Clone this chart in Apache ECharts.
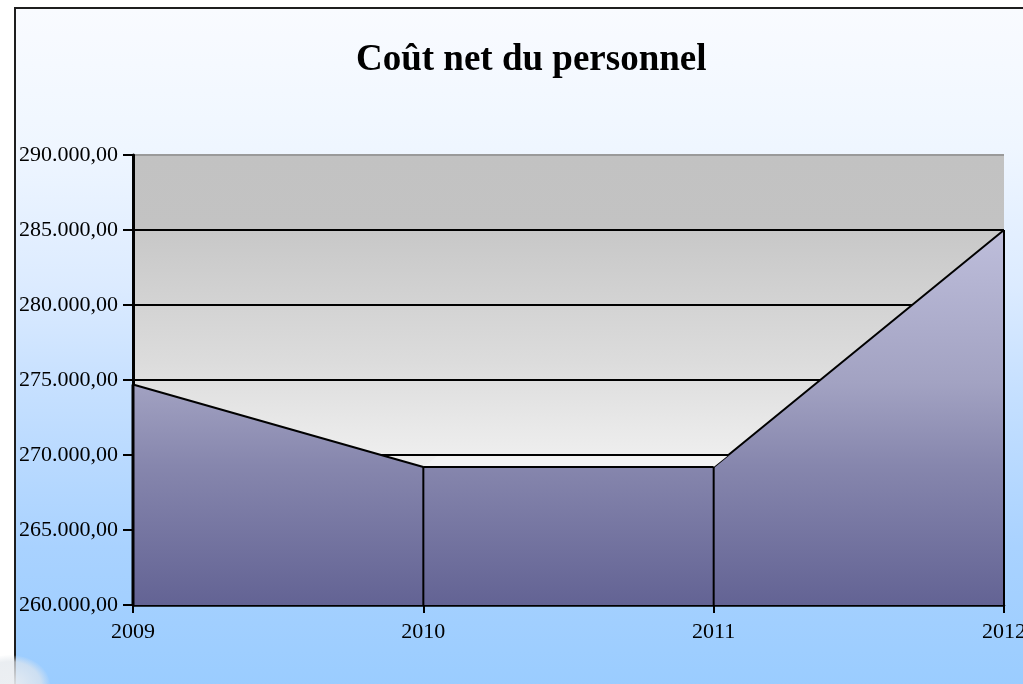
<!DOCTYPE html>
<html>
<head>
<meta charset="utf-8">
<script src="https://cdn.jsdelivr.net/npm/echarts@6/dist/echarts.min.js"></script>
<style>
  html, body { margin: 0; padding: 0; background: #ffffff; overflow: hidden; }
  #bg {
    position: absolute; left: 14px; top: 7px; width: 1100px; height: 690px;
    border-left: 2px solid #1e1e1e; border-top: 2px solid #1e1e1e;
    background: linear-gradient(to bottom, #f9fbff 0%, #eff6ff 20%, #dcebff 40%, #c6e0ff 55%, #a9d2ff 78%, #99ccff 100%);
  }
  #swoosh {
    position: absolute; left: -30px; top: 655px; width: 80px; height: 60px; border-radius: 50%;
    background: radial-gradient(ellipse at center, rgba(235,238,242,0.95) 0%, rgba(225,230,236,0.7) 55%, rgba(225,230,236,0) 72%);
  }
  #chart { position: absolute; left: 0; top: 0; width: 1023px; height: 684px; }
</style>
</head>
<body>
<div id="bg"></div>
<div id="swoosh"></div>
<div id="chart"></div>
<script>
// ---- data ----
const titleText = 'Coût net du personnel';
const categories = ['2009', '2010', '2011', '2012'];
const values = [274700, 269200, 269200, 285000];
const yMin = 260000;
const yMax = 290000;
const yStep = 5000;

function fmt(v) {
  const s = String(Math.round(v));
  return s.replace(/\B(?=(\d{3})+(?!\d))/g, '.') + ',00';
}

const serif = '"Liberation Serif", "DejaVu Serif", serif';
const chart = echarts.init(document.getElementById('chart'), null, { renderer: 'canvas' });

const depthX = 15, depthY = -12;

const option = {
  backgroundColor: 'transparent',
  animation: false,
  title: {
    text: titleText,
    left: 356,
    top: 42,
    padding: 0,
    textStyle: { fontFamily: serif, fontSize: 37, fontWeight: 'bold', color: '#000' }
  },
  grid: {
    left: 133, right: 19, top: 155, bottom: 79,
    containLabel: false,
    outerBoundsMode: 'none',
    show: true,
    borderWidth: 0,
    backgroundColor: {
      type: 'linear', x: 0, y: 0, x2: 0, y2: 1,
      colorStops: [
        { offset: 0, color: '#c2c2c2' },
        { offset: 0.166, color: '#c3c3c3' },
        { offset: 0.168, color: '#c8c8c8' },
        { offset: 0.46, color: '#dcdcdc' },
        { offset: 0.667, color: '#eeeeee' },
        { offset: 1, color: '#fdfdfd' }
      ]
    }
  },
  xAxis: {
    type: 'category',
    data: categories,
    boundaryGap: false,
    axisLine: { lineStyle: { color: '#000', width: 2.5 } },
    axisTick: { show: true, length: 8, lineStyle: { color: '#000', width: 2 } },
    axisLabel: { fontFamily: serif, fontSize: 22, color: '#000', margin: 16, showMaxLabel: true },
    splitLine: { show: false }
  },
  yAxis: {
    type: 'value',
    min: yMin, max: yMax, interval: yStep,
    axisLine: { show: true, lineStyle: { color: '#000', width: 3 } },
    axisTick: { show: true, length: 10, lineStyle: { color: '#000', width: 2 } },
    axisLabel: { fontFamily: serif, fontSize: 22, color: '#000', margin: 15, formatter: fmt },
    splitLine: {
      show: true,
      lineStyle: { color: ['#000', '#000', '#000', '#000', '#000', '#000', '#9a9a9a'], width: 2 }
    }
  },
  series: [
    {
      type: 'line',
      data: values,
      symbol: 'none',
      lineStyle: { color: '#000', width: 2 },
      areaStyle: {
        opacity: 1,
        origin: 'start',
        color: {
          type: 'linear', x: 0, y: 0, x2: 0, y2: 1,
          colorStops: [
            { offset: 0, color: '#bebedb' },
            { offset: 0.41, color: '#a2a2c2' },
            { offset: 0.63, color: '#8686ad' },
            { offset: 1, color: '#636394' }
          ]
        }
      },
      z: 2
    },
    {
      // top face of the flat 2010-2011 segment (3D depth)
      type: 'custom',
      z: 3,
      silent: true,
      data: [[1, values[1], 2, values[2]]],
      renderItem: function (params, api) {
        const a = api.coord([api.value(0), api.value(1)]);
        const b = api.coord([api.value(2), api.value(3)]);
        return {
          type: 'group',
          children: [
            {
              type: 'polygon',
              shape: { points: [a, b, [b[0] + depthX, b[1] + depthY], [a[0] + depthX, a[1] + depthY]] },
              style: { fill: '#f3f3f3', stroke: null }
            },
            {
              type: 'line',
              shape: { x1: a[0] - 40, y1: a[1] + depthY, x2: b[0] + depthX, y2: b[1] + depthY },
              style: { stroke: '#000', lineWidth: 2 }
            },
            {
              type: 'line',
              shape: { x1: a[0], y1: a[1], x2: b[0], y2: b[1] },
              style: { stroke: '#000', lineWidth: 2 }
            }
          ]
        };
      }
    },
    {
      // vertical edges of the front face (and the axis part hidden by the area)
      type: 'custom',
      z: 4,
      silent: true,
      data: values.map(function (v, i) { return [i, v]; }),
      renderItem: function (params, api) {
        const top = api.coord([api.value(0), api.value(1)]);
        const bot = api.coord([api.value(0), yMin]);
        return {
          type: 'line',
          shape: { x1: top[0], y1: top[1], x2: bot[0], y2: bot[1] + 1 },
          style: { stroke: '#000', lineWidth: params.dataIndex === 0 ? 3 : 2 }
        };
      }
    }
  ]
};
chart.setOption(option);
</script>
</body>
</html>
